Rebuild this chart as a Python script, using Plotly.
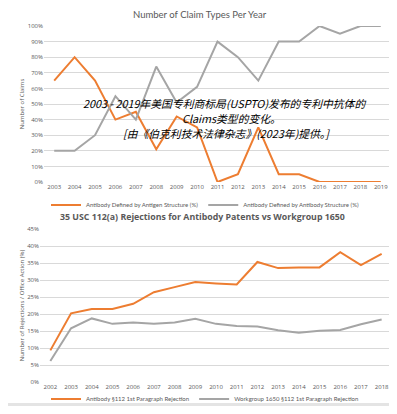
import plotly.graph_objects as go

# The page body has an 8px margin, so the figure is offset by 8px.
OFF = 8
W, H = 397 - OFF, 414 - 2 * OFF

# ---- top chart data ----
years_top = list(range(2003, 2020))
antigen_pct = [65, 80, 65, 40, 45, 21, 42, 35, 0, 5, 35, 5, 5, 0, 0, 0, 0]
antibody_pct = [20, 20, 30, 55, 40, 74, 51, 61, 90, 80, 65, 90, 90, 100, 95, 100, 100]
top_title = "Number of Claim Types Per Year"
top_ytitle = "Number of Claims"
top_names = ["Antibody Defined by Antigen Structure (%)", "Antibody Defined by Antibody Structure (%)"]

# ---- bottom chart data ----
years_bot = list(range(2002, 2019))
ab_rej = [9.3, 20.2, 21.5, 21.5, 23.0, 26.4, 27.9, 29.4, 29.0, 28.7, 35.3, 33.5, 33.7, 33.7, 38.2, 34.4, 37.7]
wg_rej = [6.2, 15.8, 18.7, 17.1, 17.5, 17.1, 17.5, 18.6, 17.1, 16.5, 16.3, 15.2, 14.5, 15.1, 15.3, 17.0, 18.4]
bot_title = "35 USC 112(a) Rejections for Antibody Patents vs Workgroup 1650"
bot_ytitle = "Number of Rejections / Office Action (%)"
bot_names = ["Antibody §112 1st Paragraph Rejection", "Workgroup 1650 §112 1st Paragraph Rejection"]

caption_lines = ["2003 - 2019年美国专利商标局(USPTO)发布的专利中抗体的",
                 "Claims类型的变化。",
                 "[由《伯克利技术法律杂志》(2023年)提供。]"]

ORANGE = "#ED7D31"
GRAY = "#A5A5A5"
TXT = "#595959"
GRID = "#D9D9D9"
FONT = "Open Sans"
LFONT = "Lato"

def px(x):
    return (x - OFF) / W

def py(y):
    return (H - (y - OFF)) / H

fig = go.Figure()
fig.add_trace(go.Scatter(x=years_top, y=[v / 100 for v in antigen_pct], mode="lines",
                         line=dict(color=ORANGE, width=2), name=top_names[0],
                         xaxis="x", yaxis="y", legend="legend"))
fig.add_trace(go.Scatter(x=years_top, y=[v / 100 for v in antibody_pct], mode="lines",
                         line=dict(color=GRAY, width=2), name=top_names[1],
                         xaxis="x", yaxis="y", legend="legend"))
fig.add_trace(go.Scatter(x=years_bot, y=[v / 100 for v in ab_rej], mode="lines",
                         line=dict(color=ORANGE, width=2), name=bot_names[0],
                         xaxis="x2", yaxis="y2", legend="legend2"))
fig.add_trace(go.Scatter(x=years_bot, y=[v / 100 for v in wg_rej], mode="lines",
                         line=dict(color=GRAY, width=2), name=bot_names[1],
                         xaxis="x2", yaxis="y2", legend="legend2"))

tickfont = dict(family=FONT, size=6, color=TXT)

annotations = [
    dict(text=top_title, x=px(200), y=py(14.5), xref="paper", yref="paper", showarrow=False,
         xanchor="center", yanchor="middle", font=dict(family=LFONT, size=9.5, color=TXT)),
    dict(text="<b>" + bot_title + "</b>", x=px(202), y=py(217), xref="paper", yref="paper", showarrow=False,
         xanchor="center", yanchor="middle", font=dict(family=FONT, size=8.8, color=TXT)),
]
for line, xx, yy in zip(caption_lines, [224, 231, 226], [103.5, 118.5, 133]):
    annotations.append(dict(text="<i>" + line + "</i>", x=px(xx), y=py(yy),
                            xref="paper", yref="paper", showarrow=False,
                            xanchor="center", yanchor="middle",
                            font=dict(family="Noto Sans CJK SC", size=10.8, color="black")))

fig.update_layout(
    width=W, height=H,
    margin=dict(l=0, r=0, t=0, b=0, autoexpand=False),
    paper_bgcolor="white",
    plot_bgcolor="rgba(0,0,0,0)",
    font=dict(family=FONT, color=TXT),
    xaxis=dict(domain=[px(44), px(391)], range=[2002.5, 2019.5], tickmode="array",
               tickvals=years_top, ticktext=[str(y) for y in years_top], tickfont=tickfont,
               showgrid=False, zeroline=False, showline=False, anchor="y", ticklen=0,
               automargin=False),
    yaxis=dict(domain=[py(182), py(26)], range=[0, 1.0], dtick=0.1, tickformat=".0%",
               tickfont=tickfont, gridcolor=GRID, gridwidth=1, zeroline=False, showline=False,
               anchor="x", automargin=False,
               title=dict(text=top_ytitle, font=dict(family=FONT, size=6, color=TXT), standoff=2)),
    xaxis2=dict(domain=[px(40), px(392)], range=[2001.5, 2018.5], tickmode="array",
                tickvals=years_bot, ticktext=[str(y) for y in years_bot], tickfont=tickfont,
                showgrid=False, zeroline=False, showline=False, anchor="y2", ticklen=0,
                automargin=False),
    yaxis2=dict(domain=[py(382), py(229)], range=[0, 0.45], dtick=0.05, tickformat=".0%",
                tickfont=tickfont, gridcolor=GRID, gridwidth=1, zeroline=False, showline=False,
                anchor="x2", automargin=False,
                title=dict(text=bot_ytitle, font=dict(family=FONT, size=6, color=TXT), standoff=2)),
    legend=dict(orientation="h", x=px(205), xanchor="center", y=py(205), yanchor="middle",
                font=dict(family=LFONT, size=6, color=TXT), bgcolor="rgba(0,0,0,0)",
                itemwidth=30, tracegroupgap=0),
    legend2=dict(orientation="h", x=px(205), xanchor="center", y=py(399), yanchor="middle",
                 font=dict(family=LFONT, size=6, color=TXT), bgcolor="rgba(0,0,0,0)",
                 itemwidth=30, tracegroupgap=0),
    shapes=[dict(type="rect", xref="paper", yref="paper", x0=0, x1=1, y0=0, y1=py(403),
                 fillcolor="#E4E4E4", line=dict(width=0), layer="below")],
    annotations=annotations,
)

fig.write_html("out.html")
